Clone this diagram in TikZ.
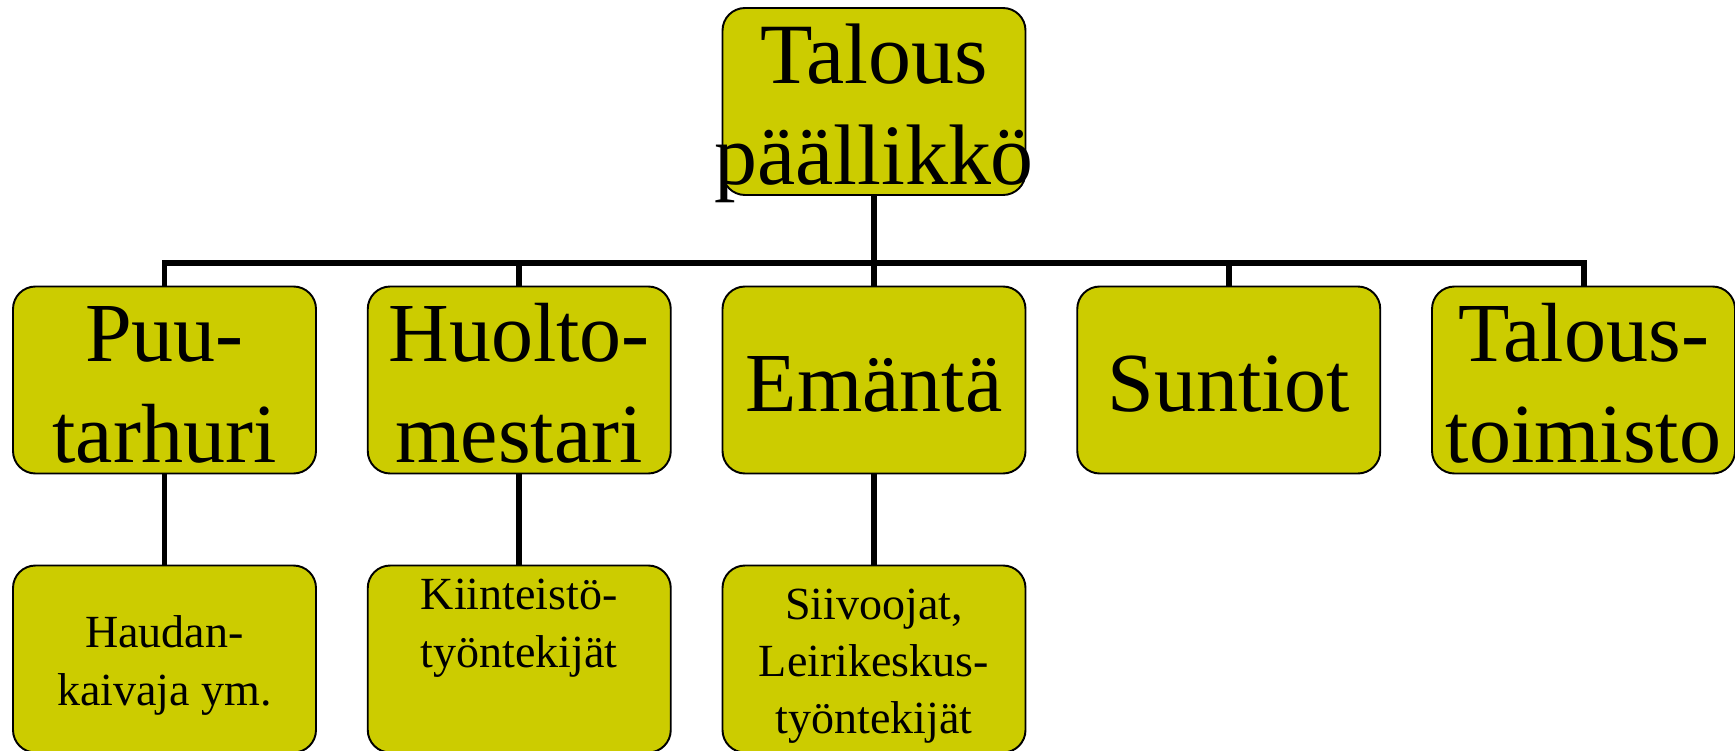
\documentclass[tikz,border=0pt]{standalone}
\usepackage{fontspec}
\usepackage{tikz}
\setmainfont{Liberation Serif}
\definecolor{gold}{HTML}{CCCC00}

\tikzset{
  unit/.style={draw, line width=1.1pt, fill=gold, rounded corners=0.45cm,
    minimum width=6.06cm, minimum height=3.74cm, inner sep=0pt, align=center},
  big/.style={font=\fontsize{47.8}{58}\selectfont, text depth=3.6pt},
  small/.style={font=\fontsize{26.2}{32.7}\selectfont, text depth=4.2pt},
  link/.style={line width=3.4pt},
}

\begin{document}
\begin{tikzpicture}
\useasboundingbox (0,0) rectangle (34.7,15);
\node[unit, font=\fontsize{48.9}{57.5}\selectfont, text height=97.5pt, text depth=2.8pt] (talous) at (17.48,12.97) {Talous\\\makebox[0pt]{päällikkö}};
\node[unit, big, text height=98pt] (puu) at (3.29,7.4) {Puu-\\tarhuri};
\node[unit, big, text height=98pt] (huolto) at (10.385,7.4) {Huolto-\\mestari};
\node[unit, big, text height=40pt] (emanta) at (17.48,7.4) {Emäntä};
\node[unit, big, text height=40pt] (suntiot) at (24.575,7.4) {Suntiot};
\node[unit, big, text height=98pt] (toimisto) at (31.67,7.4) {Talous-\\toimisto};
\node[unit, small, text height=56.8pt] (haudan) at (3.29,1.82) {Haudan-\\kaivaja ym.};
\node[unit, small, text height=56.8pt, text depth=47.2pt] (kiint) at (10.385,1.82) {Kiinteistö-\\työntekijät};
\node[unit, small, text height=89.5pt] (siivo) at (17.48,1.82) {Siivoojat,\\Leirikeskus-\\työntekijät};
\coordinate (bar) at (0,9.74);
\draw[link] (puu.north) |- (toimisto.north |- bar) -- (toimisto.north);
\draw[link] (talous.south) -- (talous.south |- bar);
\foreach \n in {huolto,emanta,suntiot}
  \draw[link] (\n.north) -- (\n.north |- bar);
\draw[link] (puu) -- (haudan);
\draw[link] (huolto) -- (kiint);
\draw[link] (emanta) -- (siivo);
\end{tikzpicture}
\end{document}
